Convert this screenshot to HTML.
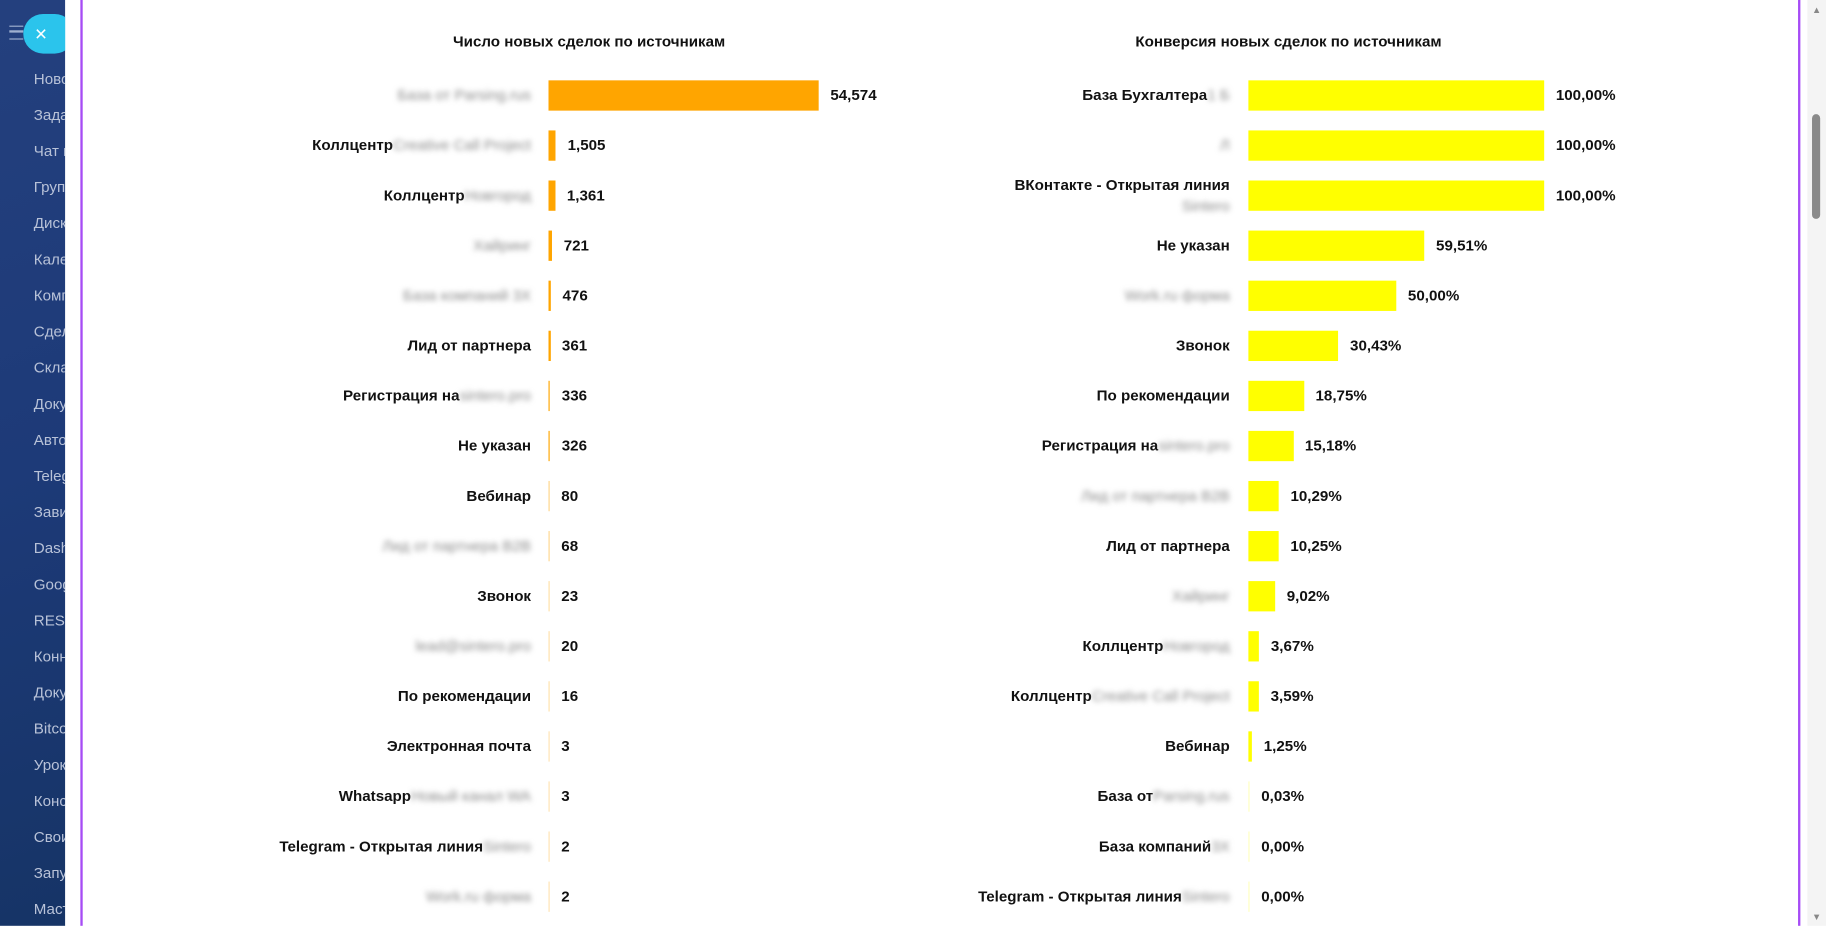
<!DOCTYPE html>
<html><head><meta charset="utf-8">
<style>
html,body{margin:0;padding:0;width:1826px;height:926px;overflow:hidden;background:#fff}
#w{position:absolute;left:0;top:0;width:1568px;height:795px;transform:scale(1.16454);transform-origin:0 0;font-family:"Liberation Sans","Noto Sans CJK SC",sans-serif}
.sb{position:absolute;left:0;top:0;width:56px;height:795px;background:linear-gradient(160deg,#24407e 0%,#1d3a78 50%,#163466 100%);overflow:hidden}
.sb div{position:absolute;left:29px;font-size:13px;color:#b8c2d8;white-space:nowrap}
.t{position:absolute;font-size:13px;font-weight:bold;color:#111;white-space:nowrap}
.lab{position:absolute;font-size:13px;font-weight:bold;color:#111;white-space:nowrap;text-align:right;line-height:16px}
.bl{color:#8a8a8a;filter:blur(2.2px);font-weight:normal}
.bar{position:absolute;height:26px}
.v{position:absolute;font-size:13px;font-weight:bold;color:#111;white-space:nowrap;line-height:16px}
</style></head><body><div id="w">
<div class="sb">
<div style="top:60px">Новости</div><div style="top:91px">Задачи</div><div style="top:122px">Чат и</div><div style="top:153px">Группы</div><div style="top:184px">Диск</div><div style="top:215px">Календарь</div><div style="top:246px">Компания</div><div style="top:277px">Сделки</div><div style="top:308px">Склад</div><div style="top:339px">Документы</div><div style="top:370px">Автоматизация</div><div style="top:401px">Telegram</div><div style="top:432px">Зависимости</div><div style="top:463px">Dashboard</div><div style="top:494px">Google</div><div style="top:525px">REST</div><div style="top:556px">Коннектор</div><div style="top:587px">Документы</div><div style="top:618px">Bitcoin</div><div style="top:649px">Уроки</div><div style="top:680px">Консультации</div><div style="top:711px">Свои</div><div style="top:742px">Запуск</div><div style="top:773px">Мастер</div>
</div>
<div style="position:absolute;left:8px;top:22px;width:12px;height:10px;border-top:1.5px solid #9fb0d0;border-bottom:1.5px solid #9fb0d0"></div>
<div style="position:absolute;left:8px;top:26px;width:12px;height:1.5px;background:#9fb0d0"></div>
<div style="position:absolute;left:20px;top:12px;width:44px;height:34px;border-radius:17px;background:#2bc4ec;color:#fff;font-size:18px;line-height:34px;text-indent:10px">×</div>
<div style="position:absolute;left:56px;top:0;width:13px;height:795px;background:#fff"></div>
<div style="position:absolute;left:69px;top:0;width:2px;height:795px;background:#a64cf5"></div>
<div style="position:absolute;left:1544px;top:0;width:2px;height:795px;background:#a64cf5"></div>
<div style="position:absolute;left:1552px;top:0;width:16px;height:795px;background:#f4f4f4"></div>
<div style="position:absolute;left:1556px;top:98px;width:7px;height:90px;border-radius:4px;background:#8a8a8a"></div>
<div style="position:absolute;left:1556px;top:4px;font-size:8px;color:#888">▲</div>
<div style="position:absolute;left:1556px;top:783px;font-size:8px;color:#888">▼</div>
<div class="t" style="left:389px;top:28px">Число новых сделок по источникам</div>
<div class="t" style="left:975px;top:28px">Конверсия новых сделок по источникам</div>
<div id="L"></div><div id="R"></div>
</div>
<script>
var L=[["","База от Parsing.rus",54574],["Коллцентр","Creative Call Project",1505],["Коллцентр","Новгород",1361],["","Хайринг",721],["","База компаний 3Х",476],["Лид от партнера","",361],["Регистрация на","sintero.pro",336],["Не указан","",326],["Вебинар","",80],["","Лид от партнера B2B",68],["Звонок","",23],["","lead@sintero.pro",20],["По рекомендации","",16],["Электронная почта","",3],["Whatsapp","Новый канал WA",3],["Telegram - Открытая линия","Sintero",2],["","Work.ru форма",2]];
var R=[["База Бухгалтера","1 Б",100,"100,00%"],["","Л",100,"100,00%"],["ВКонтакте - Открытая линия","Sintero",100,"100,00%",1],["Не указан","",59.51,"59,51%"],["","Work.ru форма",50,"50,00%"],["Звонок","",30.43,"30,43%"],["По рекомендации","",18.75,"18,75%"],["Регистрация на","sintero.pro",15.18,"15,18%"],["","Лид от партнера B2B",10.29,"10,29%"],["Лид от партнера","",10.25,"10,25%"],["","Хайринг",9.02,"9,02%"],["Коллцентр","Новгород",3.67,"3,67%"],["Коллцентр","Creative Call Project",3.59,"3,59%"],["Вебинар","",1.25,"1,25%"],["База от","Parsing.rus",0.03,"0,03%"],["База компаний","3Х",0,"0,00%"],["Telegram - Открытая линия","Sintero",0,"0,00%"]];
var h="";
L.forEach(function(r,i){var y=82+43*i;var w=r[2]/54574*232;var op=w<1?0.3+0.5*w:1;var bw=Math.max(w,1);
h+='<div class="lab" style="right:'+(1568-456)+'px;top:'+(y-8)+'px">'+r[0]+(r[1]?'<span class="bl">'+r[1]+'</span>':'')+'</div>';
h+='<div class="bar" style="left:471px;top:'+(y-13)+'px;width:'+bw+'px;background:#ffa500;opacity:'+op+'"></div>';
h+='<div class="v" style="left:'+(471+Math.max(w,1)+10)+'px;top:'+(y-8)+'px">'+r[2].toLocaleString('en-US')+'</div>';});
R.forEach(function(r,i){var y=82+43*i;var w=r[2]/100*254;var bw=Math.max(w,1);var op=w<1?0.25:1;
if(r[4]){h+='<div class="lab" style="right:'+(1568-1056)+'px;top:'+(y-18)+'px;line-height:18px">'+r[0]+'<br><span class="bl">'+r[1]+'</span></div>';}
else h+='<div class="lab" style="right:'+(1568-1056)+'px;top:'+(y-8)+'px">'+r[0]+(r[1]?'<span class="bl">'+r[1]+'</span>':'')+'</div>';
h+='<div class="bar" style="left:1072px;top:'+(y-13)+'px;width:'+bw+'px;background:#ffff00;opacity:'+op+'"></div>';
h+='<div class="v" style="left:'+(1072+bw+10)+'px;top:'+(y-8)+'px">'+r[3]+'</div>';});
document.getElementById("L").innerHTML=h;
</script>
</body></html>
